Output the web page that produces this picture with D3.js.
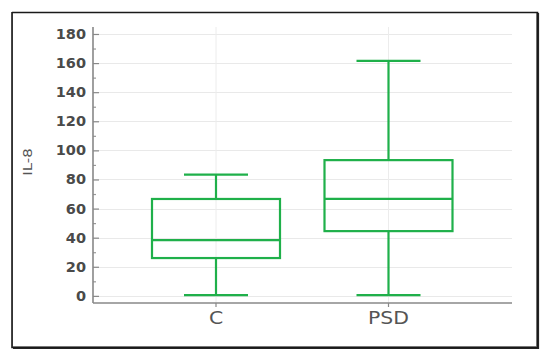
<!DOCTYPE html>
<html><head><meta charset="utf-8">
<script src="https://cdn.jsdelivr.net/npm/d3@7"></script>
<style>body{margin:0;background:#fff}</style>
</head><body>
<svg id="c" width="550" height="361"></svg>
<script>
const categories = ["C", "PSD"];
const whiskerLow = [0.5, 0.5];
const q1 = [26, 44.5];
const median = [38.3, 66.6];
const q3 = [66.6, 93.3];
const whiskerHigh = [83.3, 161.5];
const yTicks = [0, 20, 40, 60, 80, 100, 120, 140, 160, 180];
const yLabel = "IL-8";

const svg = d3.select("#c");
// frame
svg.append("rect").attr("x", 12.5).attr("y", 12.5).attr("width", 524).attr("height", 334)
  .attr("fill", "#fff").attr("stroke", "#999").attr("stroke-width", 1);
svg.append("path").attr("d", "M12,12.5H537.5V347.5H12V12").attr("fill", "none")
  .attr("stroke", "#1a1a1a").attr("stroke-width", 1.6);
svg.append("path").attr("d", "M538.5,13V348.5H13").attr("fill", "none")
  .attr("stroke", "#222").attr("stroke-width", 1.2);

const y = d3.scaleLinear().domain([-4.9, 184.8]).range([303, 27]);
const x = d3.scalePoint().domain(categories).range([216, 388.5]);
const xLeft = 93, xRight = 512;

const g = svg.append("g");
// gridlines
g.selectAll(".hg").data(yTicks).join("line")
  .attr("x1", xLeft).attr("x2", xRight)
  .attr("y1", d => Math.round(y(d)) + 0.5).attr("y2", d => Math.round(y(d)) + 0.5)
  .attr("stroke", "#e9e9e9").attr("stroke-width", 1);
g.selectAll(".vg").data(categories).join("line")
  .attr("x1", d => x(d)).attr("x2", d => x(d))
  .attr("y1", y(184.8)).attr("y2", y(-4.9))
  .attr("stroke", "#ececec").attr("stroke-width", 1);

// y axis
const yAxis = d3.axisRight(y).tickValues(yTicks).tickSize(6).tickFormat("");
const ya = g.append("g").attr("transform", `translate(${xLeft},0)`).call(yAxis);
ya.select(".domain").remove();
ya.selectAll("line").attr("stroke", "#888").attr("stroke-width", 1.2);
const yMinor = d3.axisRight(y).tickValues(d3.range(10, 180, 20)).tickSize(3).tickFormat("");
const ym = g.append("g").attr("transform", `translate(${xLeft},0)`).call(yMinor);
ym.select(".domain").remove();
ym.selectAll("line").attr("stroke", "#999").attr("stroke-width", 1.2);
g.append("line").attr("x1", xLeft).attr("x2", xLeft).attr("y1", y(184.8)).attr("y2", y(-4.9))
  .attr("stroke", "#888").attr("stroke-width", 1.6);
// y tick labels
g.selectAll(".yl").data(yTicks).join("text")
  .attr("x", 86).attr("y", d => y(d) + 5)
  .attr("text-anchor", "end")
  .attr("font-family", "DejaVu Sans").attr("font-weight", "bold").attr("font-size", 14.5)
  .attr("fill", "#4a4a4a").text(d => d);
// y label
svg.append("text").attr("transform", "translate(32,162) rotate(-90) scale(1.15,1)")
  .attr("text-anchor", "middle").attr("font-family", "DejaVu Sans").attr("font-size", 13)
  .attr("fill", "#555").text(yLabel);

// x axis
g.append("line").attr("x1", xLeft).attr("x2", xRight).attr("y1", 303).attr("y2", 303)
  .attr("stroke", "#888").attr("stroke-width", 1.6);
g.selectAll(".xt").data(categories).join("line")
  .attr("x1", d => x(d)).attr("x2", d => x(d)).attr("y1", 303).attr("y2", 307)
  .attr("stroke", "#888").attr("stroke-width", 1.2);
g.selectAll(".xl").data(categories).join("text")
  .attr("transform", d => `translate(${x(d)},324) scale(1.2,1)`)
  .attr("text-anchor", "middle").attr("font-family", "DejaVu Sans").attr("font-size", 17)
  .attr("fill", "#555").text(d => d);

// boxes
const green = "#1fb04a";
const boxW = 128, capW = 64;
const data = categories.map((c, i) => ({c, lo: whiskerLow[i], q1: q1[i], med: median[i], q3: q3[i], hi: whiskerHigh[i]}));
const bg = g.selectAll(".box").data(data).join("g").attr("fill", "none").attr("stroke", green).attr("stroke-width", 2.2);
bg.append("line").attr("x1", d => x(d.c)).attr("x2", d => x(d.c)).attr("y1", d => y(d.hi)).attr("y2", d => y(d.q3));
bg.append("line").attr("x1", d => x(d.c)).attr("x2", d => x(d.c)).attr("y1", d => y(d.q1)).attr("y2", d => y(d.lo));
bg.append("line").attr("x1", d => x(d.c) - capW/2).attr("x2", d => x(d.c) + capW/2).attr("y1", d => y(d.hi)).attr("y2", d => y(d.hi));
bg.append("line").attr("x1", d => x(d.c) - capW/2).attr("x2", d => x(d.c) + capW/2).attr("y1", d => y(d.lo)).attr("y2", d => y(d.lo));
bg.append("rect").attr("x", d => x(d.c) - boxW/2).attr("width", boxW)
  .attr("y", d => y(d.q3)).attr("height", d => y(d.q1) - y(d.q3));
bg.append("line").attr("x1", d => x(d.c) - boxW/2).attr("x2", d => x(d.c) + boxW/2).attr("y1", d => y(d.med)).attr("y2", d => y(d.med));
</script>
</body></html>
